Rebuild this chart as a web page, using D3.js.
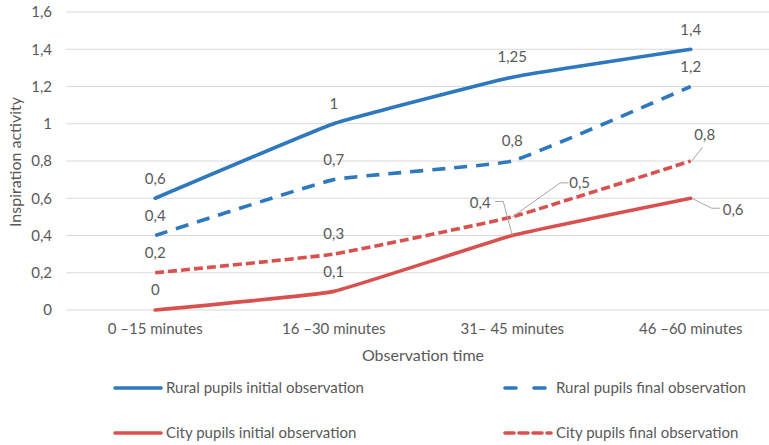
<!DOCTYPE html>
<html>
<head>
<meta charset="utf-8">
<script src="https://cdn.jsdelivr.net/npm/d3@7"></script>
<style>
  html, body { margin: 0; padding: 0; background: #fff; }
  svg { display: block; font-family: Lato, "Open Sans", sans-serif; }
</style>
</head>
<body>
<svg id="chart" width="769" height="445"></svg>
<script>
// Observation periods along the x axis
const categories = ["0 \u201315 minutes", "16 \u201330 minutes", "31\u2013 45 minutes", "46 \u201360 minutes"];

// Inspiration activity per group and observation
const ruralInitial = [0.6, 1, 1.25, 1.4];
const ruralFinal   = [0.4, 0.7, 0.8, 1.2];
const cityInitial  = [0, 0.1, 0.4, 0.6];
const cityFinal    = [0.2, 0.3, 0.5, 0.8];

const yTicks = [0, 0.2, 0.4, 0.6, 0.8, 1, 1.2, 1.4, 1.6];

const seriesNames = [
  "Rural pupils initial observation",
  "Rural pupils final observation",
  "City pupils initial observation",
  "City pupils final observation"
];

const BLUE = "#2e78bf", RED = "#d9514e", TEXT = "#595959", GRID = "#d9d9d9";
const FONT = "15px";

const series = [
  { name: seriesNames[0], values: ruralInitial, color: BLUE, dash: null },
  { name: seriesNames[1], values: ruralFinal,   color: BLUE, dash: "13,9" },
  { name: seriesNames[2], values: cityInitial,  color: RED,  dash: null },
  { name: seriesNames[3], values: cityFinal,    color: RED,  dash: "9,4" }
];

// Label placement: default above the point; some labels are pulled out with a leader line
// key = seriesIndex-pointIndex, value = {dx, dy, leader: [[x,y]...] relative to the point}
const labelMoves = {
  "2-2": { dx: -32, dy: -33, anchor: "middle", leader: [[0, 0], [-9, -34], [-17, -34]] },
  "3-2": { dx: 57, dy: -34, anchor: "start", leader: [[0, 0], [48, -34], [56, -34]] },
  "3-3": { dx: 14, dy: -26, anchor: "middle", leader: [[1, 0], [12, -14]] },
  "2-3": { dx: 32, dy: 11, anchor: "start", leader: [[1, 0], [21, 10], [29, 10]] }
};

const fmt = v => String(v).replace(".", ",");

const svg = d3.select("#chart");
const plot = { left: 66, right: 780, top: 12, bottom: 310 };

const x = d3.scaleBand().domain(categories).range([plot.left, plot.right]).padding(0);
const cx = c => x(c) + x.bandwidth() / 2;
const y = d3.scaleLinear().domain([0, 1.6]).range([plot.bottom, plot.top]);

// Horizontal gridlines
svg.append("g")
  .selectAll("line")
  .data(yTicks)
  .join("line")
  .attr("x1", plot.left).attr("x2", plot.right)
  .attr("y1", d => y(d)).attr("y2", d => y(d))
  .attr("stroke", GRID).attr("stroke-width", 1);

// Y axis labels
const yAxis = svg.append("g")
  .attr("transform", `translate(${plot.left},0)`)
  .call(d3.axisLeft(y).tickValues(yTicks).tickSize(0).tickPadding(14).tickFormat(fmt));
yAxis.select(".domain").remove();
yAxis.selectAll("text").attr("fill", TEXT).style("font-size", FONT).style("font-family", "Lato, sans-serif");

// X axis labels
const xAxis = svg.append("g")
  .attr("transform", `translate(0,${plot.bottom})`)
  .call(d3.axisBottom(x).tickSize(0).tickPadding(13));
xAxis.select(".domain").remove();
xAxis.selectAll("text").attr("fill", TEXT).style("font-size", FONT).style("font-family", "Lato, sans-serif");

// Axis titles
svg.append("text")
  .attr("x", 423).attr("y", 361)
  .attr("text-anchor", "middle")
  .attr("fill", TEXT).style("font-size", "16px")
  .text("Observation time");

svg.append("text")
  .attr("transform", "translate(21,162) rotate(-90)")
  .attr("text-anchor", "middle")
  .attr("fill", TEXT).style("font-size", "16px")
  .text("Inspiration activity");

// Series lines
const line = d3.line()
  .x((d, i) => cx(categories[i]))
  .y(d => y(d))
  .curve(d3.curveCardinal.tension(0.7));

svg.append("g")
  .selectAll("path")
  .data(series)
  .join("path")
  .attr("d", s => line(s.values))
  .attr("fill", "none")
  .attr("stroke", s => s.color)
  .attr("stroke-width", 3.6)
  .attr("stroke-dasharray", s => s.dash)
  .attr("stroke-linecap", s => s.dash ? "butt" : "round");

// Data labels
const labels = svg.append("g");
series.forEach((s, si) => {
  s.values.forEach((v, pi) => {
    const px = cx(categories[pi]), py = y(v);
    const mv = labelMoves[`${si}-${pi}`];
    if (mv && mv.leader) {
      labels.append("path")
        .attr("d", d3.line()(mv.leader.map(p => [px + p[0], py + p[1]])))
        .attr("fill", "none").attr("stroke", "#a6a6a6").attr("stroke-width", 1);
    }
    labels.append("text")
      .attr("x", px + (mv ? mv.dx : 0))
      .attr("y", py + (mv ? mv.dy : -20))
      .attr("dy", "0.35em")
      .attr("text-anchor", mv ? mv.anchor : "middle")
      .attr("fill", TEXT).style("font-size", FONT)
      .text(fmt(v));
  });
});

// Legend, two columns by two rows
const legendPos = [
  { x: 113, y: 388 }, { x: 503, y: 388 },
  { x: 113, y: 433 }, { x: 503, y: 433 }
];
const legend = svg.append("g");
series.forEach((s, i) => {
  const p = legendPos[i];
  legend.append("line")
    .attr("x1", p.x + 2).attr("x2", p.x + 48)
    .attr("y1", p.y).attr("y2", p.y)
    .attr("stroke", s.color).attr("stroke-width", 3.6)
    .attr("stroke-linecap", "round")
    .attr("stroke-dasharray", s.dash ? (i === 1 ? "11,18" : "9,5") : null);
  legend.append("text")
    .attr("x", p.x + 53).attr("y", p.y)
    .attr("dy", "0.35em")
    .attr("fill", TEXT).style("font-size", FONT)
    .text(s.name);
});
</script>
</body>
</html>
